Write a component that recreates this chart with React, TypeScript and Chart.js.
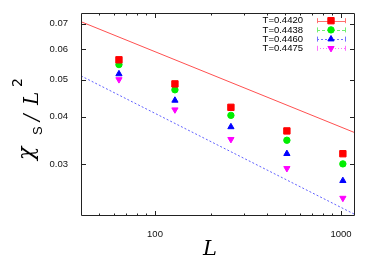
import React, { useEffect, useRef } from "react";
import { Chart, registerables } from "chart.js";

Chart.register(...registerables);

const sizesL = [64, 128, 256, 512, 1024];
const chiT4420 = [0.0563, 0.0487, 0.0423, 0.0367, 0.032];
const chiT4438 = [0.0547, 0.047, 0.0403, 0.0347, 0.0301];
const chiT4460 = [0.0517, 0.0441, 0.0376, 0.032, 0.0272];
const chiT4475 = [0.05, 0.0417, 0.0349, 0.0293, 0.0245];
const seriesLabels = ["T=0.4420", "T=0.4438", "T=0.4460", "T=0.4475"];
const seriesColors = ["#ff0000", "#00ee00", "#0000ff", "#ff00ff"];
const lineColors = ["#ff7070", "#70ee70", "#7070ff", "#ff70ff"];
const seriesStyles = ["rect", "circle", "triangle", "triangle"];
const seriesRot = [0, 0, 0, 180];
const seriesRadius = [4.5, 3.2, 3.6, 3.6];
const upperLineX = [40, 1190];
const upperLineY = [0.0708, 0.0363];
const lowerLineX = [40, 1190];
const lowerLineY = [0.0511, 0.0222];
const xTicks = [50, 60, 70, 80, 90, 100, 200, 300, 400, 500, 600, 700, 800, 900, 1000];
const xLabeled = [100, 1000];
const yTicks = [0.03, 0.04, 0.05, 0.06, 0.07];

const allSeries = [chiT4420, chiT4438, chiT4460, chiT4475];
const legendRowsY = [20.7, 29.9, 39.1, 48.3];

const framePlugin = {
  id: "framePlugin",
  afterDraw(chart: any) {
    const ctx = chart.ctx;
    const a = chart.chartArea;
    const xs = chart.scales.x;
    const ys = chart.scales.y;
    ctx.save();
    ctx.strokeStyle = "#222";
    ctx.lineWidth = 1;
    ctx.beginPath();
    ctx.rect(a.left + 0.5, a.top + 0.5, a.right - a.left - 1, a.bottom - a.top - 1);
    ctx.stroke();
    ctx.beginPath();
    for (const t of xTicks) {
      const px = Math.round(xs.getPixelForValue(t)) + 0.5;
      const len = xLabeled.includes(t) ? 5 : 2.5;
      ctx.moveTo(px, a.bottom);
      ctx.lineTo(px, a.bottom - len);
      ctx.moveTo(px, a.top);
      ctx.lineTo(px, a.top + len);
    }
    for (const t of yTicks) {
      const py = Math.round(ys.getPixelForValue(t)) + 0.5;
      ctx.moveTo(a.left, py);
      ctx.lineTo(a.left + 5, py);
      ctx.moveTo(a.right, py);
      ctx.lineTo(a.right - 5, py);
    }
    ctx.stroke();

    // Legend text and sample lines
    ctx.font = "9.5px 'Liberation Sans', Arial, sans-serif";
    ctx.textAlign = "right";
    ctx.textBaseline = "middle";
    const dashes = [[], [3, 2], [2, 2], [1, 2]];
    for (let i = 0; i < 4; i++) {
      const y = legendRowsY[i];
      ctx.fillStyle = "#000";
      ctx.fillText(seriesLabels[i], 303, y);
      ctx.strokeStyle = lineColors[i];
      ctx.lineWidth = 1;
      ctx.setLineDash(dashes[i]);
      ctx.beginPath();
      ctx.moveTo(317, Math.round(y) + 0.5);
      ctx.lineTo(346, Math.round(y) + 0.5);
      ctx.stroke();
      ctx.setLineDash([]);
      ctx.beginPath();
      ctx.moveTo(317.5, y - 2.5);
      ctx.lineTo(317.5, y + 2.5);
      ctx.moveTo(345.5, y - 2.5);
      ctx.lineTo(345.5, y + 2.5);
      ctx.stroke();
    }
    ctx.restore();

    // y title (rotated)
    ctx.save();
    ctx.translate(0, 160);
    ctx.rotate(-Math.PI / 2);
    ctx.fillStyle = "#000";
    ctx.textAlign = "left";
    ctx.textBaseline = "alphabetic";
    ctx.font = "italic 22px 'DejaVu Serif', serif";
    ctx.fillText("\u03c7", 0, 33);
    ctx.font = "13px 'Liberation Sans', Arial, sans-serif";
    ctx.fillText("S", 25, 42);
    ctx.font = "italic 20px 'DejaVu Serif', serif";
    ctx.fillText("/", 39, 38);
    ctx.fillText("L", 55, 38);
    ctx.font = "14px 'DejaVu Sans', sans-serif";
    ctx.fillText("2", 73, 22);
    ctx.restore();

    // x title
    ctx.save();
    ctx.fillStyle = "#000";
    ctx.font = "italic 21px 'DejaVu Serif', serif";
    ctx.textAlign = "center";
    ctx.textBaseline = "alphabetic";
    ctx.fillText("L", 210, 255);
    ctx.restore();
  },
};

const legendMarkers = {
  id: "legendMarkers",
  afterDraw(chart: any) {
    const ctx = chart.ctx;
    for (let i = 0; i < 4; i++) {
      const meta = chart.getDatasetMeta(i + 2);
      const el = meta && meta.data && meta.data[0];
      if (el) {
        ctx.save();
        const ox = el.x;
        const oy = el.y;
        el.x = 331;
        el.y = legendRowsY[i];
        el.draw(ctx);
        el.x = ox;
        el.y = oy;
        ctx.restore();
      }
    }
  },
};

export default function App() {
  const ref = useRef<HTMLCanvasElement>(null);
  useEffect(() => {
    if (!ref.current) return;
    const datasets: any[] = [
      {
        type: "line",
        data: upperLineX.map((x, i) => ({ x, y: upperLineY[i] })),
        borderColor: "#ff5050",
        borderWidth: 1,
        pointRadius: 0,
        fill: false,
      },
      {
        type: "line",
        data: lowerLineX.map((x, i) => ({ x, y: lowerLineY[i] })),
        borderColor: "#6060ff",
        borderWidth: 1,
        borderDash: [2, 2],
        pointRadius: 0,
        fill: false,
      },
    ];
    allSeries.forEach((s, i) => {
      datasets.push({
        type: "scatter",
        label: seriesLabels[i],
        data: sizesL.map((x, j) => ({ x, y: s[j] })),
        backgroundColor: seriesColors[i],
        borderColor: seriesColors[i],
        borderWidth: 1,
        pointStyle: seriesStyles[i],
        rotation: seriesRot[i],
        pointRadius: seriesRadius[i],
      });
    });
    const chart = new Chart(ref.current, {
      type: "scatter",
      data: { datasets },
      plugins: [framePlugin, legendMarkers],
      options: {
        animation: false,
        responsive: false,
        devicePixelRatio: 1,
        layout: { padding: { left: 0, top: 13, right: 19, bottom: 0 } },
        plugins: { legend: { display: false }, tooltip: { enabled: false } },
        scales: {
          x: {
            type: "logarithmic",
            min: 40,
            max: 1190,
            grid: { display: false },
            border: { display: false },
            afterBuildTicks: (s: any) => {
              s.ticks = xTicks.map((v) => ({ value: v }));
            },
            afterFit: (s: any) => {
              s.height = 52;
            },
            ticks: {
              autoSkip: false,
              maxRotation: 0,
              padding: 5,
              color: "#111",
              font: { family: "'Liberation Sans', Arial, sans-serif", size: 9.5 },
              callback: (v: any) => (xLabeled.includes(Number(v)) ? String(v) : ""),
            },
          },
          y: {
            type: "logarithmic",
            min: 0.022,
            max: 0.0746,
            grid: { display: false },
            border: { display: false },
            afterBuildTicks: (s: any) => {
              s.ticks = yTicks.map((v) => ({ value: v }));
            },
            afterFit: (s: any) => {
              s.width = 81;
            },
            ticks: {
              autoSkip: false,
              padding: 5,
              color: "#111",
              font: { family: "'Liberation Sans', Arial, sans-serif", size: 9.5 },
              callback: (v: any) => Number(v).toFixed(2),
            },
          },
        },
      } as any,
    });
    return () => chart.destroy();
  }, []);
  return (
    <div style={{ position: "fixed", left: 0, top: 0, width: 374, height: 268, background: "#fff" }}>
      <canvas ref={ref} width={374} height={268} style={{ width: 374, height: 268 }} />
    </div>
  );
}
